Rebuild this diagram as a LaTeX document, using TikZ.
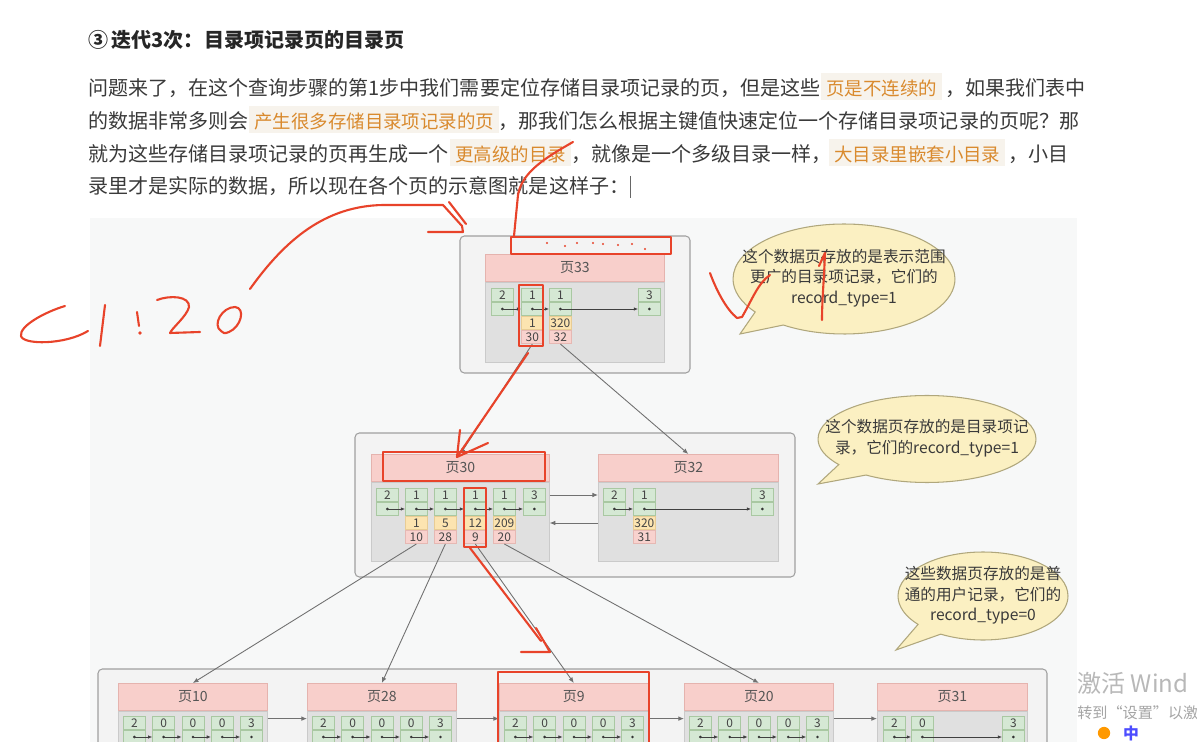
\documentclass[tikz,border=0pt]{standalone}
\usepackage{fontspec}
\setmainfont{Noto Sans CJK SC}
\usetikzlibrary{arrows.meta, positioning, shapes.callouts}

\definecolor{bodytext}{HTML}{3A3A3A}
\definecolor{hltext}{HTML}{D98A2E}
\definecolor{hlbg}{HTML}{F7F3EC}
\definecolor{canvas}{HTML}{F7F8F8}
\definecolor{framefill}{HTML}{F3F3F3}
\definecolor{frameline}{HTML}{A0A0A0}
\definecolor{bodyfill}{HTML}{E0E0E0}
\definecolor{bodyline}{HTML}{CACACA}
\definecolor{headfill}{HTML}{F8CFCB}
\definecolor{headline}{HTML}{E5B3AE}
\definecolor{headtext}{HTML}{555555}
\definecolor{greenfill}{HTML}{D5E8D4}
\definecolor{greenline}{HTML}{A9C8A2}
\definecolor{orangefill}{HTML}{FCE4B0}
\definecolor{orangeline}{HTML}{E8CC94}
\definecolor{pinkfill}{HTML}{F8D2CE}
\definecolor{pinkline}{HTML}{E6B8B3}
\definecolor{celltext}{HTML}{444444}
\definecolor{linkgray}{HTML}{707070}
\definecolor{annred}{HTML}{E8432A}
\definecolor{notefill}{HTML}{FBF0C2}
\definecolor{noteline}{HTML}{B0A77C}
\definecolor{wmgray}{HTML}{B8B8B8}

\newcommand\txtfnt{\fontsize{11.4}{13.7}\selectfont}
\newcommand\hlfnt{\fontsize{10.5}{12.6}\selectfont}
\newcommand\headfnt{\fontsize{8}{9.6}\selectfont}
\newcommand\cellfnt{\fontsize{6.8}{8}\selectfont}
\newcommand\notefnt{\fontsize{8.9}{11.4}\selectfont}

% one record: number cell and pointer cell
\newcommand{\rec}[4]{%
  \node[cellg] (#1-t) at ({#2},{#3}) {#4};
  \node[cellg, anchor=north] (#1-d) at (#1-t.south) {};
  \fill[black!80] (#1-d.center) circle (0.8pt);
}
% key and page number under a record
\newcommand{\idx}[3]{%
  \node[cello, anchor=north] (#1-k) at (#1-d.south) {#2};
  \node[cellp, anchor=north] (#1-g) at (#1-k.south) {#3};
}
% note text that does not widen its bubble
\newcommand{\notetext}[1]{\makebox[0pt]{\begin{tabular}{@{}c@{}}#1\end{tabular}}}

\begin{document}
\begin{tikzpicture}[
    x=0.02cm, y=-0.02cm,
    txt/.style={anchor=base west, inner sep=0, font=\txtfnt, text=bodytext},
    hl/.style={anchor=base west, inner xsep=0.1cm, inner ysep=0, text height=0.46cm, text depth=0.08cm, fill=hlbg, text=hltext, font=\hlfnt},
    outerbox/.style={draw=frameline, fill=framefill, rounded corners=2.5pt, line width=0.6pt},
    pghead/.style={draw=headline, fill=headfill, anchor=north west, inner sep=0, minimum height=0.54cm, font=\headfnt, text=headtext},
    pgbody/.style={draw=bodyline, fill=bodyfill, inner sep=0},
    cellg/.style={draw=greenline, fill=greenfill, anchor=north west, inner sep=0, minimum width=0.44cm, minimum height=0.266cm, font=\cellfnt, text=celltext},
    cello/.style={cellg, draw=orangeline, fill=orangefill},
    cellp/.style={cellg, draw=pinkline, fill=pinkfill},
    ptr/.style={draw=black!75, line width=0.4pt, -{Latex[length=2.4pt,width=2pt]}},
    link/.style={draw=linkgray, line width=0.5pt, -{Latex[length=3.2pt,width=2.6pt]}},
    bubble/.style={ellipse callout, draw=noteline, fill=notefill, line width=0.6pt, inner sep=0, font=\notefnt, text=bodytext, callout pointer arc=20},
    redmark/.style={draw=annred, line width=1.2pt, line cap=round, line join=round}
  ]
  \useasboundingbox (0,0) rectangle (1197,742);
  \clip (0,0) rectangle (1197,742);
  \fill[white] (0,0) rectangle (1197,742);

  % text above the figure
  \node[txt, font=\txtfnt\bfseries, text=black!85] (title) at (88,48) {③\,迭代3次：目录项记录页的目录页};

  \node[txt] (l1a) at (88,96) {问题来了，在这个查询步骤的第1步中我们需要定位存储目录项记录的页，但是这些};
  \node[hl] (l1hl) at (821,96) {页是不连续的};
  \node[txt] (l1b) at (945,96) {，如果我们表中};

  \node[txt] (l2a) at (88,129) {的数据非常多则会};
  \node[hl] (l2hl) at (249,129) {产生很多存储目录项记录的页};
  \node[txt] (l2b) at (498,129) {，那我们怎么根据主键值快速定位一个存储目录项记录的页呢？那};

  \node[txt] (l3a) at (88,162) {就为这些存储目录项记录的页再生成一个};
  \node[hl] (l3hl) at (450,162) {更高级的目录};
  \node[txt] (l3b) at (571,162) {，就像是一个多级目录一样，};
  \node[hl] (l3hl2) at (829,162) {大目录里嵌套小目录};
  \node[txt] (l3c) at (1008,162) {，小目};

  \node[txt] (l4a) at (88,194) {录里才是实际的数据，所以现在各个页的示意图就是这样子：};
  \draw[black!60, line width=0.5pt] (630,176) -- (630,198);

  % figure background and frames
  \fill[canvas] (90,218) rectangle (1077,742);
  \draw[outerbox] (460,236) rectangle (690,373);
  \draw[outerbox] (355,433) rectangle (795,577);
  \draw[outerbox] (98,669) rectangle (1047,760);

  % page 33
  \node[pghead, minimum width=3.58cm] (p33-h) at (485,254) {页33};
  \node[pgbody, minimum width=3.58cm, minimum height=1.6cm, below=0pt of p33-h] (p33-b) {};
  \rec{p33-1}{491}{288}{2}
  \rec{p33-2}{521}{288}{1}
  \idx{p33-2}{1}{30}
  \rec{p33-3}{549}{288}{1}
  \idx{p33-3}{320}{32}
  \rec{p33-4}{638}{288}{3}
  \draw[ptr] (p33-1-d.center) -- (p33-2-d.west);
  \draw[ptr] (p33-2-d.center) -- (p33-3-d.west);
  \draw[ptr] (p33-3-d.center) -- (p33-4-d.west);

  % page 30
  \node[pghead, minimum width=3.56cm] (p30-h) at (371,454) {页30};
  \node[pgbody, minimum width=3.56cm, minimum height=1.58cm, below=0pt of p30-h] (p30-b) {};
  \rec{p30-1}{376}{488}{2}
  \rec{p30-2}{405}{488}{1}
  \idx{p30-2}{1}{10}
  \rec{p30-3}{434}{488}{1}
  \idx{p30-3}{5}{28}
  \rec{p30-4}{464}{488}{1}
  \idx{p30-4}{12}{9}
  \rec{p30-5}{493}{488}{1}
  \idx{p30-5}{209}{20}
  \rec{p30-6}{523}{488}{3}
  \foreach \i/\j in {1/2,2/3,3/4,4/5,5/6}
    \draw[ptr] (p30-\i-d.center) -- (p30-\j-d.west);

  % page 32
  \node[pghead, minimum width=3.6cm] (p32-h) at (598,454) {页32};
  \node[pgbody, minimum width=3.6cm, minimum height=1.58cm, below=0pt of p32-h] (p32-b) {};
  \rec{p32-1}{603}{488}{2}
  \rec{p32-2}{633}{488}{1}
  \idx{p32-2}{320}{31}
  \rec{p32-3}{751}{488}{3}
  \draw[ptr] (p32-1-d.center) -- (p32-2-d.west);
  \draw[ptr] (p32-2-d.center) -- (p32-3-d.west);

  \draw[link] (p30-b.east |- p30-6-t.center) -- (p32-b.west |- p30-6-t.center);
  \draw[link] (p32-b.west |- p32-2-k.center) -- (p30-b.east |- p32-2-k.center);

  % leaf pages
  \foreach \pg/\x/\lab in {p10/118/10, p28/307/28, p9/499/9, p20/684/20}{
    \node[pghead, minimum width=2.98cm] (\pg-h) at (\x,683) {页\lab};
    \node[pgbody, minimum width=2.98cm, minimum height=0.9cm, below=0pt of \pg-h] (\pg-b) {};
    \foreach \i/\n in {1/2,2/0,3/0,4/0,5/3}{
      \rec{\pg-\i}{\x+5+(\i-1)*29.3}{716}{\n}
    }
    \foreach \i/\j in {1/2,2/3,3/4,4/5}
      \draw[ptr] (\pg-\i-d.center) -- (\pg-\j-d.west);
  }
  \node[pghead, minimum width=3cm] (p31-h) at (877,683) {页31};
  \node[pgbody, minimum width=3cm, minimum height=0.9cm, below=0pt of p31-h] (p31-b) {};
  \rec{p31-1}{883}{716}{2}
  \rec{p31-2}{911}{716}{0}
  \rec{p31-3}{1002}{716}{3}
  \draw[ptr] (p31-1-d.center) -- (p31-2-d.west);
  \draw[ptr] (p31-2-d.center) -- (p31-3-d.west);

  \foreach \a/\b in {p10/p28, p28/p9, p9/p20, p20/p31}
    \draw[link] ([yshift=2.5pt]\a-b.east |- \a-1-t.center) -- ([yshift=2.5pt]\b-b.west |- \a-1-t.center);

  % directory links
  \draw[link] (p33-2-g.south) -- (p30-h.north);
  \draw[link] (p33-3-g.south) -- (p32-h.north);
  \draw[link] (p30-2-g.south) -- (p10-h.north);
  \draw[link] (p30-3-g.south) -- (p28-h.north);
  \draw[link] (p30-4-g.south) -- (p9-h.north);
  \draw[link] (p30-5-g.south) -- (p20-h.north);

  % notes
  \node[bubble, minimum width=4.44cm, minimum height=2.2cm, callout absolute pointer={(740,334)}] (note33) at (844,279)
    {\notetext{这个数据页存放的是表示范围\\更广的目录项记录，它们的\\record\_type=1}};
  \node[bubble, minimum width=4.36cm, minimum height=1.74cm, callout absolute pointer={(818,484)}] (note30) at (927,439)
    {\notetext{这个数据页存放的是目录项记\\录，它们的record\_type=1}};
  \node[bubble, minimum width=3.4cm, minimum height=1.76cm, callout absolute pointer={(896,650)}] (noteleaf) at (983,596)
    {\notetext{这些数据页存放的是普\\通的用户记录，它们的\\record\_type=0}};

  % watermark and input bar
  \node[anchor=west, inner sep=0, font=\fontsize{13.7}{16}\selectfont, text=wmgray] (wm1) at (1077,683) {激活 Wind};
  \node[anchor=west, inner sep=0, font=\fontsize{8.6}{10}\selectfont, text=wmgray!90!black] (wm2) at (1077,713) {转到“设置”以激};
  \fill[white] (1090,724) rectangle (1197,742);
  \fill[orange!80!yellow] (1104,733) circle (3.5pt);
  \node[inner sep=0, font=\fontsize{9}{10}\selectfont\bfseries, text=blue!70] (ime) at (1131,733) {中};

  % red pen marks
  \draw[redmark] (511,237) rectangle (671,254);
  \foreach \p in {(547,243),(565,246),(577,243),(593,243),(603,244),(618,245),(632,244),(645,249)}
    \fill[annred] \p circle (0.7pt);
  \draw[redmark] (519,285) rectangle (543,346);
  \draw[redmark] (383,452) rectangle (545,481);
  \draw[redmark] (464,488) rectangle (486,547);
  \draw[redmark] (498,672) rectangle (649,760);

  \draw[redmark] (65,306) .. controls (45,312) and (19,326) .. (21,336) .. controls (23,345) and (65,345) .. (88,331);
  \draw[redmark] (105,305) -- (100,346);
  \draw[redmark] (137,312) -- (139,326);
  \fill[annred] (140,333) circle (1.1pt);
  \draw[redmark] (157,300) .. controls (170,295) and (190,296) .. (189,307) .. controls (187,316) and (172,328) .. (170,333) -- (200,332);
  \draw[redmark] (221,331) .. controls (212,325) and (222,307) .. (235,307) .. controls (246,308) and (241,327) .. (229,332) .. controls (225,334) and (222,333) .. (221,331);
  \draw[redmark] (250,289) .. controls (285,240) and (325,206) .. (383,205) -- (443,205) -- (462,226) -- (463,232) -- (428,232);
  \draw[redmark] (449,202) -- (466,224);

  \draw[redmark] (573,142) .. controls (545,158) and (522,172) .. (518,195) -- (514,236);

  \draw[redmark] (710,273) .. controls (717,292) and (727,310) .. (737,318) -- (742,317) .. controls (752,300) and (758,283) .. (770,275);
  \draw[redmark] (819,266) -- (825,253) .. controls (824,280) and (822,300) .. (822,320);

  \draw[redmark] (528,353) -- (457,457);
  \draw[redmark] (460,430) -- (457,457) -- (488,443);

  \draw[redmark] (470,548) -- (541,641);
  \draw[redmark] (536,628) -- (550,652) -- (521,652);
\end{tikzpicture}
\end{document}
